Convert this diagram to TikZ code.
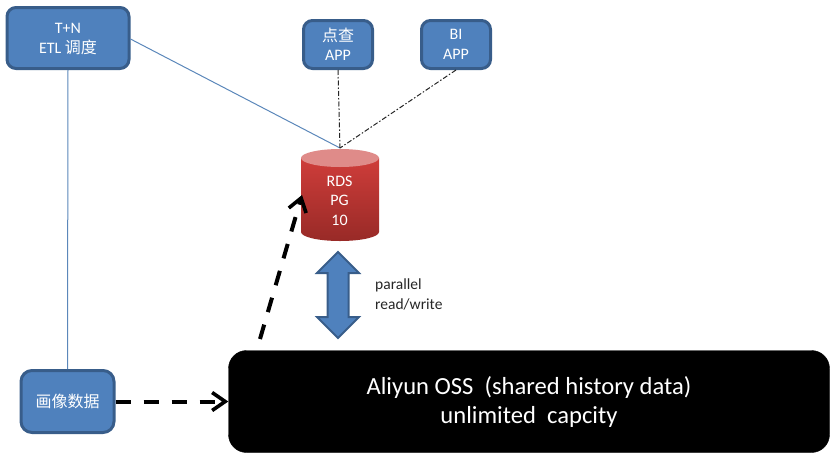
\documentclass[tikz,border=0pt]{standalone}
\usepackage{fontspec}
\setmainfont{Carlito}
\newfontfamily\cjk{Noto Sans CJK SC}
\usetikzlibrary{shapes.arrows,arrows.meta}
\definecolor{bfill}{HTML}{4F81BD}
\definecolor{bline}{HTML}{385D8A}
\definecolor{thinb}{HTML}{5B87BA}
\definecolor{cylT}{HTML}{CF3D3A}
\definecolor{cylB}{HTML}{982A27}
\definecolor{cylE}{HTML}{DF8B89}
\tikzset{
  appbox/.style={draw=bline,line width=3pt,fill=bfill,rounded corners=9pt,text=white,align=center,font=\fontsize{16}{19.5}\selectfont,inner sep=0pt},
  thinline/.style={draw=thinb,line width=1pt},
  dotline/.style={draw=black!85,line width=1pt,dash pattern=on 5pt off 2pt on 1.5pt off 2pt},
  bigdash/.style={draw=black,line width=4pt,dash pattern=on 15pt off 13pt,-{Straight Barb[length=13pt,width=18pt,line width=3.6pt]}},
  dblabel/.style={text=white,align=center,font=\fontsize{16}{19.5}\selectfont,inner sep=0pt},
}
\begin{document}
\begin{tikzpicture}[x=1pt,y=-1pt]
\useasboundingbox (0,0) rectangle (838,464);
\node[appbox,minimum width=122pt,minimum height=61pt,text depth=0pt] (etl) at (68,38) {\raisebox{-1pt}{T+N}\\\raisebox{-1pt}{ETL {\cjk 调度}}};
\node[appbox,minimum width=69pt,minimum height=48pt] (dq) at (338,44.5) {\raisebox{-1pt}{\cjk 点查}\\\raisebox{-1pt}{APP}};
\node[appbox,minimum width=69pt,minimum height=48pt] (bi) at (456,44.5) {\raisebox{-1pt}{BI}\\\raisebox{-1pt}{APP}};
\node[appbox,minimum width=93pt,minimum height=62pt,rounded corners=11pt] (img) at (67.5,401.5) {{\cjk 画像数据}};
\node[draw=black,fill=black,rounded corners=18pt,minimum width=601pt,minimum height=102pt,text=white,align=center,font=\fontsize{24.6}{29}\selectfont,inner sep=0pt] (oss) at (529,401.5) {Aliyun OSS\ \ (shared history data)\\unlimited\ \ capcity};
% cylinder
\shade[top color=cylT,bottom color=cylB] (301,158) -- (301,232) arc[start angle=180,end angle=360,x radius=39pt,y radius=9pt] -- (379,158) -- cycle;
\fill[cylE] (340,158) ellipse[x radius=39pt,y radius=9pt];
\node[dblabel] (db) at (339.5,200.5) {RDS\\PG\\10};
\coordinate (dbtop) at (340,148);
\coordinate (dbside) at (302,195);
\coordinate (dashstart) at (260,339);
\node[double arrow,draw=bline,line width=2pt,fill=bfill,rotate=90,minimum height=86pt,double arrow head extend=10.5pt,inner xsep=0pt,inner ysep=9.5pt] (rw) at (338,295) {};
\node[anchor=west,align=left,inner sep=0pt,font=\fontsize{15.5}{20}\selectfont,text=black!85] (lbl) at (375,294) {parallel\\read/write};
\draw[thinline] (etl.south) -- (img.north);
\draw[thinline] (etl.east) ++(0,1) -- (dbtop);
\draw[dotline] (dq.south) -- (dbtop);
\draw[dotline] (bi.south) -- (dbtop);
\draw[bigdash] (img.east) -- (oss.west);
\draw[bigdash] (dashstart) -- (dbside);
\end{tikzpicture}
\end{document}
